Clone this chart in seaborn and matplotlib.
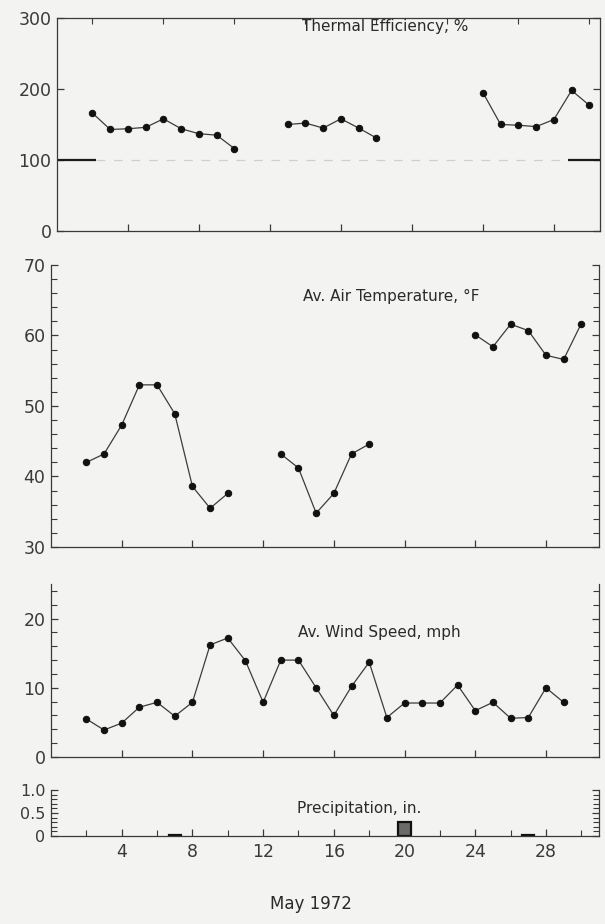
import numpy as np
import pandas as pd
import matplotlib
matplotlib.use("Agg")
import matplotlib.pyplot as plt
from matplotlib.ticker import MultipleLocator, FixedLocator, NullFormatter
import seaborn as sns

# ---- data -------------------------------------------------------------
eff_days = [2, 3, 4, 5, 6, 7, 8, 9, 10,
            13, 14, 15, 16, 17, 18,
            24, 25, 26, 27, 28, 29, 30]
eff_pct = [166, 143, 144, 146, 158, 144, 137, 135, 116,
           150, 152, 145, 158, 145, 131,
           195, 150, 149, 147, 157, 198, 177]
eff_segment = [1] * 9 + [2] * 6 + [3] * 7

temp_days = [2, 3, 4, 5, 6, 7, 8, 9, 10,
             13, 14, 15, 16, 17, 18,
             24, 25, 26, 27, 28, 29, 30]
temp_f = [42.0, 43.2, 47.3, 53.0, 53.0, 48.9, 38.6, 35.5, 37.6,
          43.2, 41.2, 34.8, 37.6, 43.2, 44.6,
          60.1, 58.4, 61.6, 60.7, 57.2, 56.6, 61.7]
temp_segment = [1] * 9 + [2] * 6 + [3] * 7

wind_days = list(range(2, 30))
wind_mph = [5.5, 3.9, 4.9, 7.2, 7.9, 5.9, 7.9, 16.2, 17.2, 13.9,
            7.9, 14.0, 14.0, 10.0, 6.0, 10.2, 13.7, 5.7, 7.8, 7.8,
            7.8, 10.4, 6.7, 7.9, 5.6, 5.7, 10.0, 7.9]

precip_days = [7, 20, 27]
precip_in = [0.02, 0.30, 0.02]

month_days = list(range(1, 32))
x_labels = [4, 8, 12, 16, 20, 24, 28]

# ---- style ------------------------------------------------------------
sns.set_theme(style="white")
BG = "#f3f3f1"
INK = "#2a2a2a"
plt.rcParams["font.family"] = ["DejaVu Sans"]
plt.rcParams.update({
    "axes.facecolor": BG,
    "figure.facecolor": BG,
    "axes.edgecolor": "#3a3a3a",
    "axes.linewidth": 0.9,
    "xtick.color": "#3a3a3a",
    "ytick.color": "#3a3a3a",
    "xtick.labelcolor": INK,
    "ytick.labelcolor": INK,
    "text.color": INK,
})

W, H = 605, 924
fig = plt.figure(figsize=(W / 100, H / 100), dpi=100)


def px_axes(left, top, right, bottom):
    return fig.add_axes([left / W, 1 - bottom / H, (right - left) / W, (bottom - top) / H])


def style_axis(ax, top_spine=False):
    ax.tick_params(axis="both", which="both", direction="in", colors="#3a3a3a")
    ax.tick_params(axis="both", which="major", length=5, width=0.9, labelsize=12.5)
    ax.tick_params(axis="both", which="minor", length=4, width=0.8)
    ax.tick_params(axis="y", which="both", left=True, right=True, pad=4)
    ax.tick_params(axis="x", which="both", bottom=True, pad=5)
    ax.spines["top"].set_visible(top_spine)
    ax.set_xlabel("")
    ax.set_ylabel("")
    if ax.get_legend() is not None:
        ax.get_legend().remove()


line_kw = dict(color="#3c3c3c", linewidth=0.9, marker="o", markersize=4.6,
               markerfacecolor="#111111", markeredgecolor="#111111")

# ---- thermal efficiency -------------------------------------------------
ax1 = px_axes(57, 18, 600, 231)
eff = pd.DataFrame({"day": eff_days, "pct": eff_pct, "seg": eff_segment})
sns.lineplot(data=eff, x="day", y="pct", units="seg", estimator=None, ax=ax1, **line_kw)
ax1.set_xlim(0, 30.6)
ax1.set_ylim(0, 300)
ax1.yaxis.set_major_locator(FixedLocator([0, 100, 200, 300]))
ax1.xaxis.set_major_locator(FixedLocator(x_labels))
ax1.xaxis.set_major_formatter(NullFormatter())
# 100 % reference line
ax1.plot([0, 2.2], [100, 100], color="#1a1a1a", lw=1.6, solid_capstyle="butt")
ax1.plot([28.8, 30.6], [100, 100], color="#1a1a1a", lw=1.6, solid_capstyle="butt")
ax1.plot([2.2, 28.8], [100, 100], color="#cfcfcf", lw=0.9, dashes=(7, 7))
style_axis(ax1, top_spine=True)
ax1.tick_params(axis="x", which="minor", top=True, bottom=False, length=4)
ax1.xaxis.set_minor_locator(FixedLocator(list(range(2, 31, 2))))

# ---- air temperature ---------------------------------------------------
ax2 = px_axes(51, 265, 599, 547)
temp = pd.DataFrame({"day": temp_days, "temp": temp_f, "seg": temp_segment})
sns.lineplot(data=temp, x="day", y="temp", units="seg", estimator=None, ax=ax2, **line_kw)
ax2.set_xlim(0, 31)
ax2.set_ylim(30, 70)
ax2.yaxis.set_major_locator(MultipleLocator(10))
ax2.yaxis.set_minor_locator(MultipleLocator(2))
ax2.xaxis.set_major_locator(FixedLocator(x_labels))
ax2.xaxis.set_major_formatter(NullFormatter())
style_axis(ax2)

# ---- wind speed -----------------------------------------------------------
ax3 = px_axes(51, 584, 599, 757)
wind = pd.DataFrame({"day": wind_days, "mph": wind_mph})
sns.lineplot(data=wind, x="day", y="mph", estimator=None, ax=ax3, **line_kw)
ax3.set_xlim(0, 31)
ax3.set_ylim(0, 25)
ax3.yaxis.set_major_locator(FixedLocator([0, 10, 20]))
ax3.yaxis.set_minor_locator(MultipleLocator(2))
ax3.xaxis.set_major_locator(FixedLocator(x_labels))
ax3.xaxis.set_major_formatter(NullFormatter())
style_axis(ax3)

# ---- precipitation ---------------------------------------------------------
ax4 = px_axes(51, 790, 599, 836)
precip = (pd.Series(precip_in, index=precip_days)
          .reindex(month_days, fill_value=0.0)
          .rename_axis("day").reset_index(name="inches"))
sns.barplot(data=precip, x="day", y="inches", native_scale=True, width=0.7,
            color="#6a6a6a", edgecolor="#111111", linewidth=1.6, saturation=1,
            errorbar=None, ax=ax4)
# dry days carry no bar at all
for bar in ax4.patches:
    if bar.get_height() == 0:
        bar.set_visible(False)
ax4.set_xlim(0, 31)
ax4.set_ylim(0, 1.0)
ax4.yaxis.set_major_locator(FixedLocator([0, 0.5, 1.0]))
ax4.yaxis.set_major_formatter(plt.FuncFormatter(lambda v, _: "0" if v == 0 else f"{v:.1f}"))
ax4.yaxis.set_minor_locator(MultipleLocator(0.1))
ax4.xaxis.set_major_locator(FixedLocator(x_labels))
ax4.xaxis.set_major_formatter(plt.FuncFormatter(lambda v, _: f"{int(v)}"))
ax4.xaxis.set_minor_locator(FixedLocator(list(range(2, 31, 2))))
style_axis(ax4)
ax4.tick_params(axis="y", which="major", labelsize=11.5)

# ---- panel captions ------------------------------------------------------
caption_kw = dict(fontsize=11, ha="left", va="center", color=INK)
fig.text(302 / W, 1 - 27 / H, "Thermal Efficiency, %", **caption_kw)
fig.text(303 / W, 1 - 296 / H, "Av. Air Temperature, °F", **caption_kw)
fig.text(298 / W, 1 - 633 / H, "Av. Wind Speed, mph", **caption_kw)
fig.text(297 / W, 1 - 808 / H, "Precipitation, in.", **caption_kw)
fig.text(311 / W, 1 - 904 / H, "May 1972", fontsize=12, ha="center", va="center", color=INK)

fig.savefig("out.png", dpi=100, facecolor=BG)
